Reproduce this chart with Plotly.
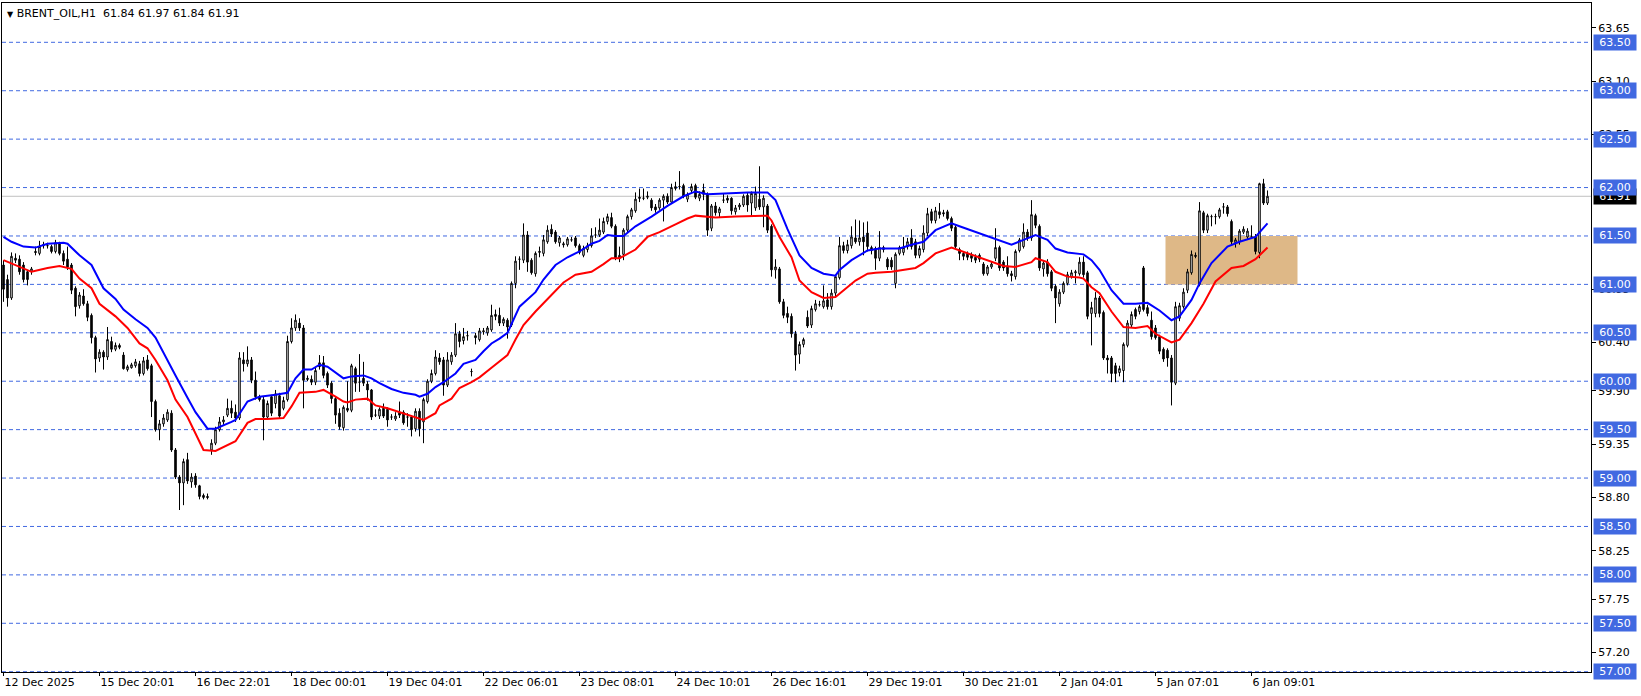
import plotly.graph_objects as go

# ---------------- data ----------------
bar_open = [
    61.20, 61.05, 60.86, 61.27, 61.26, 61.20, 61.13, 61.13, 61.34, 61.32,
    61.40, 61.40, 61.39, 61.34, 61.42, 61.32, 61.26, 61.20, 60.96, 60.78,
    60.88, 60.80, 60.68, 60.45, 60.24, 60.30, 60.25, 60.41, 60.33, 60.37,
    60.27, 60.12, 60.14, 60.16, 60.18, 60.08, 60.22, 60.16, 59.79, 59.50,
    59.56, 59.60, 59.67, 59.29, 59.01, 58.95, 59.19, 58.96, 59.02, 58.92,
    58.82, 58.81, 59.29, 59.36, 59.50, 59.58, 59.65, 59.72, 59.68, 59.62,
    60.22, 60.18, 60.22, 60.01, 59.84, 59.81, 59.63, 59.84, 59.77, 59.85,
    59.72, 59.81, 60.41, 60.55, 60.60, 60.55, 60.03, 60.02, 59.99, 60.19,
    60.19, 60.08, 59.98, 59.82, 59.67, 59.52, 59.72, 59.70, 60.13, 59.99,
    60.03, 59.97, 59.91, 59.65, 59.64, 59.72, 59.71, 59.63, 59.61, 59.68,
    59.68, 59.63, 59.63, 59.51, 59.69, 59.58, 59.79, 60.00, 60.08, 60.24,
    60.22, 59.96, 60.20, 60.27, 60.49, 60.42, 60.47, 60.10, 60.47, 60.43,
    60.51, 60.50, 60.53, 60.69, 60.68, 60.60, 60.63, 60.58, 61.01, 61.26,
    61.25, 61.51, 61.25, 61.11, 61.33, 61.32, 61.44, 61.57, 61.54, 61.43,
    61.42, 61.41, 61.46, 61.48, 61.40, 61.30, 61.36, 61.40, 61.51, 61.51,
    61.54, 61.65, 61.69, 61.60, 61.27, 61.31, 61.56, 61.70, 61.76, 61.90,
    61.89, 61.90, 61.87, 61.80, 61.79, 61.87, 61.91, 61.85, 61.99, 62.01,
    62.02, 61.88, 61.97, 62.02, 61.89, 61.97, 61.93, 61.58, 61.81, 61.74,
    61.87, 61.89, 61.89, 61.75, 61.80, 61.82, 61.92, 61.84, 61.79, 61.88,
    61.80, 61.81, 61.60, 61.15, 61.16, 60.82, 60.70, 60.67, 60.49, 60.28,
    60.38, 60.66, 60.58, 60.74, 60.79, 60.77, 60.84, 60.77, 60.91, 61.07,
    61.40, 61.35, 61.40, 61.48, 61.44, 61.49, 61.53, 61.38, 61.37, 61.27,
    61.38, 61.26, 61.25, 61.01, 61.32, 61.33, 61.39, 61.48, 61.44, 61.30,
    61.36, 61.53, 61.75, 61.66, 61.75, 61.74, 61.75, 61.68, 61.59, 61.36,
    61.32, 61.32, 61.30, 61.28, 61.30, 61.21, 61.11, 61.18, 61.27, 61.38,
    61.23, 61.19, 61.11, 61.08, 61.35, 61.39, 61.54, 61.48, 61.71, 61.60,
    61.16, 61.23, 61.13, 60.98, 60.80, 60.92, 61.01, 61.08, 61.12, 61.11,
    61.23, 61.12, 60.70, 60.70, 60.86, 60.71, 60.24, 60.24, 60.16, 60.09,
    60.11, 60.37, 60.58, 60.74, 60.72, 61.17, 60.76, 60.63, 60.55, 60.46,
    60.33, 60.32, 60.24, 59.98, 60.65, 60.77, 60.94, 61.12, 61.30, 61.00,
    61.74, 61.56, 61.70, 61.70, 61.70, 61.80, 61.80, 61.65, 61.43, 61.44,
    61.54, 61.49, 61.49, 61.49, 61.33, 62.04, 61.84,
]
bar_high = [
    61.25, 61.10, 61.33, 61.32, 61.30, 61.23, 61.15, 61.18, 61.39, 61.45,
    61.44, 61.43, 61.41, 61.46, 61.44, 61.35, 61.39, 61.22, 60.98, 60.92,
    60.95, 60.83, 60.70, 60.47, 60.33, 60.32, 60.56, 60.46, 60.40, 60.39,
    60.30, 60.17, 60.19, 60.23, 60.21, 60.25, 60.27, 60.18, 59.81, 59.60,
    59.66, 59.71, 59.70, 59.31, 59.03, 59.20, 59.26, 59.05, 59.05, 58.93,
    58.84, 58.84, 59.40, 59.53, 59.63, 59.64, 59.82, 59.80, 59.76, 60.30,
    60.30, 60.36, 60.25, 60.10, 59.86, 59.84, 59.80, 59.86, 59.91, 59.88,
    59.84, 60.47, 60.65, 60.69, 60.65, 60.58, 60.06, 60.06, 60.14, 60.27,
    60.26, 60.10, 60.00, 59.84, 59.72, 59.75, 60.00, 60.18, 60.15, 60.28,
    60.20, 60.00, 59.92, 59.71, 59.73, 59.77, 59.73, 59.66, 59.68, 59.79,
    59.70, 59.67, 59.65, 59.72, 59.72, 59.83, 60.02, 60.12, 60.32, 60.29,
    60.25, 60.30, 60.30, 60.60, 60.52, 60.55, 60.52, 60.13, 60.50, 60.55,
    60.55, 60.57, 60.79, 60.74, 60.76, 60.66, 60.65, 61.03, 61.29, 61.29,
    61.63, 61.55, 61.27, 61.34, 61.39, 61.51, 61.61, 61.62, 61.56, 61.50,
    61.44, 61.49, 61.49, 61.50, 61.42, 61.40, 61.43, 61.58, 61.59, 61.68,
    61.69, 61.73, 61.74, 61.62, 61.39, 61.58, 61.72, 61.79, 61.95, 61.99,
    61.99, 61.96, 61.89, 61.83, 61.89, 61.93, 61.94, 62.04, 62.06, 62.17,
    62.04, 61.95, 62.04, 62.04, 61.96, 62.04, 61.95, 61.83, 61.85, 61.80,
    61.94, 61.92, 61.90, 61.82, 61.84, 61.93, 61.95, 61.96, 62.01, 62.22,
    61.92, 61.83, 61.62, 61.26, 61.18, 60.85, 60.77, 60.70, 60.52, 60.41,
    60.45, 60.73, 60.78, 60.84, 60.83, 60.99, 60.91, 60.95, 61.10, 61.49,
    61.44, 61.46, 61.60, 61.67, 61.66, 61.64, 61.65, 61.40, 61.39, 61.55,
    61.40, 61.28, 61.28, 61.33, 61.40, 61.49, 61.48, 61.57, 61.47, 61.40,
    61.61, 61.79, 61.78, 61.80, 61.84, 61.77, 61.77, 61.70, 61.61, 61.38,
    61.34, 61.34, 61.33, 61.31, 61.32, 61.23, 61.20, 61.24, 61.58, 61.40,
    61.25, 61.29, 61.14, 61.36, 61.48, 61.63, 61.57, 61.87, 61.73, 61.62,
    61.25, 61.26, 61.15, 61.00, 60.95, 61.03, 61.13, 61.15, 61.15, 61.28,
    61.29, 61.14, 60.82, 60.92, 60.88, 60.73, 60.27, 60.26, 60.19, 60.16,
    60.40, 60.63, 60.72, 60.76, 60.79, 61.19, 60.79, 60.72, 60.58, 60.48,
    60.35, 60.34, 60.27, 60.82, 60.81, 60.96, 61.16, 61.35, 61.33, 61.85,
    61.76, 61.73, 61.72, 61.73, 61.79, 61.84, 61.82, 61.67, 61.48, 61.57,
    61.60, 61.58, 61.61, 61.52, 62.05, 62.09, 61.97,
]
bar_low = [
    60.82, 60.77, 60.84, 61.22, 61.10, 61.02, 60.99, 61.10, 61.30, 61.30,
    61.37, 61.37, 61.32, 61.32, 61.30, 61.20, 61.15, 60.90, 60.67, 60.75,
    60.78, 60.62, 60.39, 60.09, 60.20, 60.12, 60.22, 60.30, 60.31, 60.33,
    60.12, 60.10, 60.13, 60.14, 60.05, 60.06, 60.11, 59.63, 59.48, 59.39,
    59.53, 59.58, 59.27, 58.99, 58.67, 58.72, 58.94, 58.90, 58.90, 58.78,
    58.78, 58.78, 59.24, 59.34, 59.48, 59.55, 59.63, 59.62, 59.58, 59.60,
    60.10, 60.15, 59.98, 59.81, 59.79, 59.39, 59.60, 59.64, 59.72, 59.62,
    59.70, 59.79, 60.39, 60.52, 60.52, 59.72, 60.00, 59.96, 59.96, 60.12,
    60.03, 59.93, 59.77, 59.56, 59.50, 59.49, 59.68, 59.68, 59.89, 59.89,
    59.95, 59.80, 59.60, 59.63, 59.61, 59.62, 59.53, 59.60, 59.59, 59.62,
    59.55, 59.53, 59.43, 59.48, 59.43, 59.36, 59.77, 59.98, 60.06, 60.17,
    59.85, 59.94, 60.17, 60.25, 60.35, 60.38, 60.42, 60.05, 60.38, 60.41,
    60.48, 60.47, 60.51, 60.63, 60.57, 60.57, 60.44, 60.56, 60.96, 61.15,
    61.22, 61.13, 61.10, 61.08, 61.28, 61.29, 61.42, 61.49, 61.42, 61.39,
    61.38, 61.39, 61.44, 61.38, 61.31, 61.28, 61.33, 61.38, 61.48, 61.49,
    61.52, 61.62, 61.58, 61.25, 61.23, 61.25, 61.54, 61.67, 61.74, 61.85,
    61.87, 61.88, 61.76, 61.74, 61.77, 61.65, 61.83, 61.83, 61.97, 61.98,
    61.89, 61.85, 61.94, 61.88, 61.86, 61.87, 61.50, 61.55, 61.71, 61.69,
    61.84, 61.84, 61.72, 61.72, 61.77, 61.80, 61.75, 61.70, 61.76, 61.77,
    61.59, 61.53, 61.08, 61.06, 60.80, 60.65, 60.60, 60.45, 60.11, 60.18,
    60.35, 60.55, 60.55, 60.72, 60.77, 60.75, 60.74, 60.74, 60.86, 61.05,
    61.32, 61.32, 61.37, 61.42, 61.40, 61.30, 61.34, 61.31, 61.15, 61.24,
    61.33, 61.15, 61.15, 60.96, 61.30, 61.30, 61.36, 61.36, 61.27, 61.27,
    61.33, 61.50, 61.63, 61.63, 61.68, 61.70, 61.66, 61.55, 61.36, 61.25,
    61.25, 61.25, 61.23, 61.22, 61.23, 61.09, 61.09, 61.16, 61.24, 61.14,
    61.14, 61.08, 61.03, 61.05, 61.33, 61.37, 61.45, 61.45, 61.58, 61.14,
    61.08, 61.08, 60.93, 60.60, 60.77, 60.90, 60.99, 61.06, 61.01, 61.09,
    61.07, 60.64, 60.37, 60.66, 60.66, 60.22, 60.08, 59.99, 59.99, 60.05,
    59.99, 60.35, 60.56, 60.64, 60.69, 60.72, 60.67, 60.43, 60.43, 60.28,
    60.20, 60.15, 59.75, 59.96, 60.62, 60.75, 60.91, 61.10, 61.27, 60.98,
    61.53, 61.53, 61.60, 61.62, 61.68, 61.73, 61.70, 61.41, 61.38, 61.41,
    61.52, 61.47, 61.47, 61.31, 61.27, 61.82, 61.82,
]
bar_close = [
    60.95, 60.86, 61.29, 61.25, 61.13, 61.05, 61.05, 61.16, 61.33, 61.39,
    61.41, 61.40, 61.34, 61.43, 61.32, 61.24, 61.18, 60.94, 60.77, 60.89,
    60.80, 60.66, 60.45, 60.23, 60.30, 60.25, 60.43, 60.33, 60.37, 60.35,
    60.13, 60.15, 60.17, 60.20, 60.08, 60.21, 60.13, 59.79, 59.50, 59.56,
    59.62, 59.68, 59.29, 59.01, 58.95, 59.17, 58.97, 59.01, 58.93, 58.81,
    58.80, 58.80, 59.36, 59.50, 59.58, 59.60, 59.72, 59.67, 59.62, 60.24,
    60.18, 60.22, 60.01, 59.84, 59.81, 59.63, 59.77, 59.67, 59.87, 59.64,
    59.80, 60.41, 60.55, 60.63, 60.55, 60.01, 60.02, 59.99, 60.11, 60.15,
    60.06, 59.96, 59.82, 59.65, 59.53, 59.73, 59.70, 60.16, 59.98, 59.99,
    59.98, 59.91, 59.63, 59.65, 59.71, 59.64, 59.60, 59.63, 59.64, 59.65,
    59.57, 59.63, 59.50, 59.69, 59.51, 59.81, 60.00, 60.08, 60.25, 60.20,
    59.96, 60.22, 60.27, 60.49, 60.41, 60.46, 60.47, 60.10, 60.45, 60.52,
    60.52, 60.55, 60.68, 60.67, 60.60, 60.64, 60.56, 61.01, 61.24, 61.26,
    61.51, 61.23, 61.12, 61.32, 61.34, 61.46, 61.56, 61.52, 61.44, 61.48,
    61.41, 61.47, 61.46, 61.40, 61.33, 61.37, 61.40, 61.50, 61.51, 61.56,
    61.65, 61.70, 61.60, 61.27, 61.30, 61.56, 61.70, 61.77, 61.88, 61.89,
    61.89, 61.91, 61.79, 61.77, 61.87, 61.91, 61.85, 62.00, 62.01, 62.01,
    61.91, 61.93, 62.01, 61.90, 61.93, 61.93, 61.56, 61.81, 61.74, 61.78,
    61.87, 61.87, 61.76, 61.79, 61.82, 61.91, 61.82, 61.94, 61.94, 61.80,
    61.89, 61.56, 61.15, 61.18, 60.82, 60.68, 60.66, 60.49, 60.27, 60.38,
    60.43, 60.57, 60.75, 60.80, 60.79, 60.83, 60.77, 60.91, 61.08, 61.40,
    61.35, 61.41, 61.49, 61.44, 61.48, 61.44, 61.39, 61.35, 61.27, 61.38,
    61.36, 61.18, 61.18, 61.31, 61.38, 61.38, 61.44, 61.39, 61.30, 61.37,
    61.53, 61.73, 61.66, 61.76, 61.72, 61.73, 61.68, 61.58, 61.39, 61.32,
    61.29, 61.28, 61.27, 61.25, 61.26, 61.11, 61.18, 61.21, 61.38, 61.17,
    61.17, 61.11, 61.09, 61.34, 61.46, 61.54, 61.48, 61.72, 61.61, 61.17,
    61.22, 61.11, 60.96, 60.86, 60.92, 61.01, 61.10, 61.12, 61.13, 61.23,
    61.10, 60.67, 60.76, 60.86, 60.70, 60.24, 60.22, 60.08, 60.08, 60.13,
    60.38, 60.60, 60.69, 60.67, 60.77, 60.74, 60.70, 60.46, 60.45, 60.31,
    60.23, 60.24, 59.99, 60.77, 60.78, 60.92, 61.13, 61.31, 61.29, 61.76,
    61.56, 61.71, 61.70, 61.70, 61.77, 61.80, 61.73, 61.44, 61.46, 61.55,
    61.57, 61.55, 61.49, 61.34, 62.04, 61.84, 61.91,
]
bar_index = list(range(len(bar_close)))

# moving-average lines (bar index, price)
blue_ma_bar = [0, 2, 5, 8, 11, 15, 16, 19, 22, 25, 28, 30, 33, 36, 38, 40, 43, 46, 48, 51,
               53, 57, 58, 61, 64, 68, 71, 73, 75, 77, 79, 81, 83, 85, 87, 90, 92, 94, 97, 100,
               103, 104, 106, 108, 110, 113, 115, 118, 120, 122, 124, 126, 129, 133, 135, 138, 141, 144, 147, 149,
               151, 153, 155, 158, 162, 166, 170, 173, 176, 181, 186, 191, 193, 196, 199, 202, 205, 208, 209, 212,
               216, 219, 224, 227, 230, 233, 237, 239, 243, 247, 250, 252, 255, 258, 261, 263, 266, 270, 272, 274,
               277, 280, 283, 286, 289, 292, 294, 297, 299, 302, 306, 309, 313, 316]
blue_ma_val = [61.49, 61.44, 61.39, 61.38, 61.42, 61.43, 61.42, 61.30, 61.20, 60.96, 60.85, 60.74, 60.64, 60.55, 60.45, 60.29, 60.06, 59.83, 59.68, 59.51,
               59.51, 59.58, 59.60, 59.79, 59.84, 59.86, 59.88, 60.03, 60.12, 60.12, 60.17, 60.15, 60.09, 60.03, 60.05, 60.06, 60.03, 59.98, 59.92, 59.88,
               59.86, 59.84, 59.87, 59.94, 59.99, 60.08, 60.18, 60.22, 60.31, 60.39, 60.44, 60.50, 60.77, 60.92, 61.05, 61.20, 61.28, 61.34, 61.42, 61.45,
               61.51, 61.50, 61.50, 61.60, 61.70, 61.81, 61.91, 61.96, 61.93, 61.94, 61.95, 61.95, 61.87, 61.57, 61.30, 61.17, 61.11, 61.09, 61.15, 61.25,
               61.35, 61.37, 61.37, 61.41, 61.44, 61.56, 61.63, 61.60, 61.54, 61.48, 61.44, 61.41, 61.46, 61.51, 61.46, 61.37, 61.33, 61.31, 61.25, 61.15,
               60.94, 60.80, 60.80, 60.81, 60.73, 60.63, 60.67, 60.84, 61.01, 61.22, 61.39, 61.44, 61.49, 61.63]
red_ma_bar = [0, 3, 5, 7, 11, 14, 17, 19, 22, 24, 28, 31, 34, 36, 38, 41, 43, 46, 48, 50,
              53, 55, 58, 61, 63, 66, 70, 72, 74, 78, 80, 83, 85, 86, 88, 91, 93, 96, 99, 103,
              105, 108, 109, 112, 114, 117, 119, 122, 124, 126, 128, 130, 133, 137, 140, 143, 147, 150, 152, 154,
              158, 161, 164, 168, 171, 173, 178, 183, 191, 192, 194, 197, 199, 202, 205, 208, 210, 213, 216, 218,
              222, 225, 228, 230, 233, 237, 239, 243, 247, 250, 253, 257, 258, 261, 263, 266, 269, 270, 272, 274,
              277, 280, 283, 286, 288, 292, 294, 297, 300, 303, 307, 310, 313, 316]
red_ma_val = [61.25, 61.20, 61.16, 61.13, 61.17, 61.19, 61.16, 61.06, 60.96, 60.80, 60.67, 60.55, 60.39, 60.34, 60.22, 60.01, 59.81, 59.63, 59.46, 59.29,
              59.28, 59.32, 59.38, 59.57, 59.61, 59.61, 59.62, 59.74, 59.88, 59.89, 59.91, 59.84, 59.79, 59.78, 59.81, 59.82, 59.75, 59.72, 59.68, 59.63,
              59.60, 59.67, 59.75, 59.82, 59.93, 59.99, 60.04, 60.14, 60.21, 60.27, 60.43, 60.58, 60.72, 60.89, 61.02, 61.10, 61.13, 61.21, 61.27, 61.27,
              61.36, 61.49, 61.54, 61.62, 61.68, 61.71, 61.69, 61.70, 61.71, 61.66, 61.49, 61.28, 61.04, 60.92, 60.86, 60.87, 60.94, 61.04, 61.11, 61.12,
              61.13, 61.15, 61.17, 61.22, 61.32, 61.38, 61.35, 61.29, 61.23, 61.19, 61.18, 61.23, 61.27, 61.23, 61.13, 61.08, 61.07, 61.06, 60.97, 60.91,
              60.72, 60.56, 60.55, 60.57, 60.49, 60.40, 60.43, 60.60, 60.80, 61.03, 61.17, 61.19, 61.26, 61.38]

level_prices = [57.00, 57.50, 58.00, 58.50, 59.00, 59.50, 60.00, 60.50, 61.00, 61.50, 62.00, 62.50, 63.00, 63.50]
axis_tick_prices = [57.20, 57.75, 58.25, 58.80, 59.35, 59.90, 60.40, 60.95, 62.55, 63.10, 63.65]
time_tick_bars = [0, 24, 48, 72, 96, 120, 144, 168, 192, 216, 240, 264, 288, 312]
time_tick_labels = ["12 Dec 2025", "15 Dec 20:01", "16 Dec 22:01", "18 Dec 00:01", "19 Dec 04:01",
                    "22 Dec 06:01", "23 Dec 08:01", "24 Dec 10:01", "26 Dec 16:01", "29 Dec 19:01",
                    "30 Dec 21:01", "2 Jan 04:01", "5 Jan 07:01", "6 Jan 09:01"]
last_price = 61.91
zone_bars = [290.5, 323.5]
zone_prices = [61.00, 61.50]
symbol_text = "BRENT_OIL,H1"
ohlc_text = "61.84 61.97 61.84 61.91"

# ---------------- figure ----------------
FONT = "DejaVu Sans"
LEVEL_BLUE = "#4169E1"

fig = go.Figure()

fig.add_trace(go.Candlestick(
    x=bar_index, open=bar_open, high=bar_high, low=bar_low, close=bar_close,
    increasing=dict(fillcolor="white", line=dict(color="black", width=1)),
    decreasing=dict(fillcolor="black", line=dict(color="black", width=1)),
    whiskerwidth=0, showlegend=False, hoverinfo="skip",
))
fig.add_trace(go.Scatter(x=blue_ma_bar, y=blue_ma_val, mode="lines",
                         line=dict(color="#0000FF", width=2), showlegend=False, hoverinfo="skip"))
fig.add_trace(go.Scatter(x=red_ma_bar, y=red_ma_val, mode="lines",
                         line=dict(color="#FF0000", width=2), showlegend=False, hoverinfo="skip"))

shapes = []
shapes.append(dict(type="rect", xref="x", yref="y", x0=zone_bars[0], x1=zone_bars[1],
                   y0=zone_prices[0], y1=zone_prices[1], fillcolor="#DEB887",
                   line=dict(width=0), layer="below"))
shapes.append(dict(type="line", xref="paper", yref="y", x0=0, x1=1, y0=last_price, y1=last_price,
                   line=dict(color="#C0C0C0", width=1), layer="below"))
for lv in level_prices:
    shapes.append(dict(type="line", xref="paper", yref="y", x0=0, x1=1, y0=lv, y1=lv,
                       line=dict(color=LEVEL_BLUE, width=1, dash="4px,3px"), layer="below"))

annotations = []
annotations.append(dict(xref="paper", yref="y", x=1, y=last_price, xanchor="left", yanchor="middle",
                        xshift=2, text=f"{last_price:.2f}", showarrow=False,
                        font=dict(family=FONT, size=11, color="white"), bgcolor="black",
                        width=40, height=13, borderpad=1))
for lv in level_prices:
    annotations.append(dict(xref="paper", yref="y", x=1, y=lv, xanchor="left", yanchor="middle",
                            xshift=2, text=f"{lv:.2f}", showarrow=False,
                            font=dict(family=FONT, size=11, color="white"), bgcolor=LEVEL_BLUE,
                            width=40, height=13, borderpad=1))
annotations.append(dict(xref="paper", yref="paper", x=0, y=1, xanchor="left", yanchor="top",
                        xshift=3, yshift=-2, showarrow=False, bgcolor="white",
                        text="<span style='font-size:8px'>\u25BC</span> " + symbol_text +
                             "\u00a0\u00a0" + ohlc_text,
                        font=dict(family=FONT, size=11, color="black")))

y_lo, y_hi = 56.997, 63.906

fig.update_layout(
    width=1641, height=696,
    margin=dict(l=2, r=50, t=3, b=24, autoexpand=False),
    paper_bgcolor="white", plot_bgcolor="white",
    showlegend=False, hovermode=False,
    boxgap=0.45,
    font=dict(family=FONT, size=11, color="black"),
    shapes=shapes, annotations=annotations,
    xaxis=dict(
        range=[-0.375, 396.875], rangeslider=dict(visible=False),
        tickmode="array", tickvals=time_tick_bars, ticktext=time_tick_labels,
        ticks="outside", ticklen=3, tickcolor="black", tickwidth=1,
        ticklabelposition="outside right",
        tickfont=dict(family=FONT, size=11, color="black"),
        showgrid=False, zeroline=False, showline=True, mirror=True,
        linecolor="black", linewidth=1, automargin=False, fixedrange=True,
    ),
    yaxis=dict(
        side="right", range=[y_lo, y_hi],
        tickmode="array", tickvals=axis_tick_prices,
        ticktext=[f"{v:.2f}" for v in axis_tick_prices],
        ticks="outside", ticklen=4, tickcolor="black", tickwidth=1,
        tickfont=dict(family=FONT, size=11, color="black"),
        showgrid=False, zeroline=False, showline=True, mirror=True,
        linecolor="black", linewidth=1, automargin=False, fixedrange=True,
    ),
)

fig.write_html(
    "out.html",
    config={"displayModeBar": False, "staticPlot": True},
    post_script="document.body.style.margin='0px';document.body.style.padding='0px';"
                "document.documentElement.style.overflow='hidden';",
)
